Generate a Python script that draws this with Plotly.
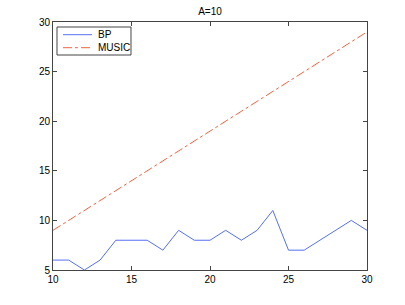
import plotly.graph_objects as go

x_vals = list(range(10, 31))
bp_vals = [6, 6, 5, 6, 8, 8, 8, 7, 9, 8, 8, 9, 8, 9, 11, 7, 7, 8, 9, 10, 9]
music_vals = [9, 10, 11, 12, 13, 14, 15, 16, 17, 18, 19, 20, 21, 22, 23, 24, 25, 26, 27, 28, 29]
x_ticks = [10, 15, 20, 25, 30]
y_ticks = [5, 10, 15, 20, 25, 30]
series_names = ["BP", "MUSIC"]
series_colors = ["#5470f4", "#f4623e"]
series_dash = ["solid", "dashdot"]

fig = go.Figure()
for name, vals, col, dsh in zip(series_names, [bp_vals, music_vals], series_colors, series_dash):
    fig.add_trace(go.Scatter(x=x_vals, y=vals, mode="lines", name=name,
                             line=dict(color=col, width=1, dash=dsh),
                             showlegend=False))

axis_common = dict(showline=True, linecolor="#444", linewidth=1, mirror="ticks",
                   ticks="inside", ticklen=4, tickcolor="#444", showgrid=False,
                   zeroline=False, tickfont=dict(size=10, color="#000"))
fig.update_xaxes(range=[10, 30], tickvals=x_ticks, **axis_common)
fig.update_yaxes(range=[5, 30], tickvals=y_ticks, **axis_common)

# MATLAB-style compact legend box (paper coords)
fig.add_shape(type="rect", xref="paper", yref="paper", x0=0.0127, x1=0.2484,
              y0=0.8669, y1=0.9798, line=dict(color="#444", width=1),
              fillcolor="white", layer="above")
leg_y = [0.9488, 0.8964]
for name, col, dsh, ly in zip(series_names, series_colors, series_dash, leg_y):
    fig.add_shape(type="line", xref="paper", yref="paper", x0=0.0318, x1=0.1242,
                  y0=ly, y1=ly, line=dict(color=col, width=1, dash=dsh), layer="above")
    fig.add_annotation(xref="paper", yref="paper", x=0.137, y=ly, text=name,
                       showarrow=False, xanchor="left", yanchor="middle",
                       font=dict(size=10, color="#000"))

fig.update_layout(
    width=405, height=305,
    margin=dict(l=53, r=38, t=22, b=35),
    paper_bgcolor="white", plot_bgcolor="white",
    font=dict(family="Liberation Sans, Arial, sans-serif", size=10, color="#000"),
    title=dict(text="A=10", x=0.5, xref="paper", y=0.962, yanchor="middle",
               font=dict(size=10)),
    showlegend=False,
)
fig.write_html("out.html", config={"displayModeBar": False},
               post_script="document.body.style.margin='0';document.body.style.padding='0';")
